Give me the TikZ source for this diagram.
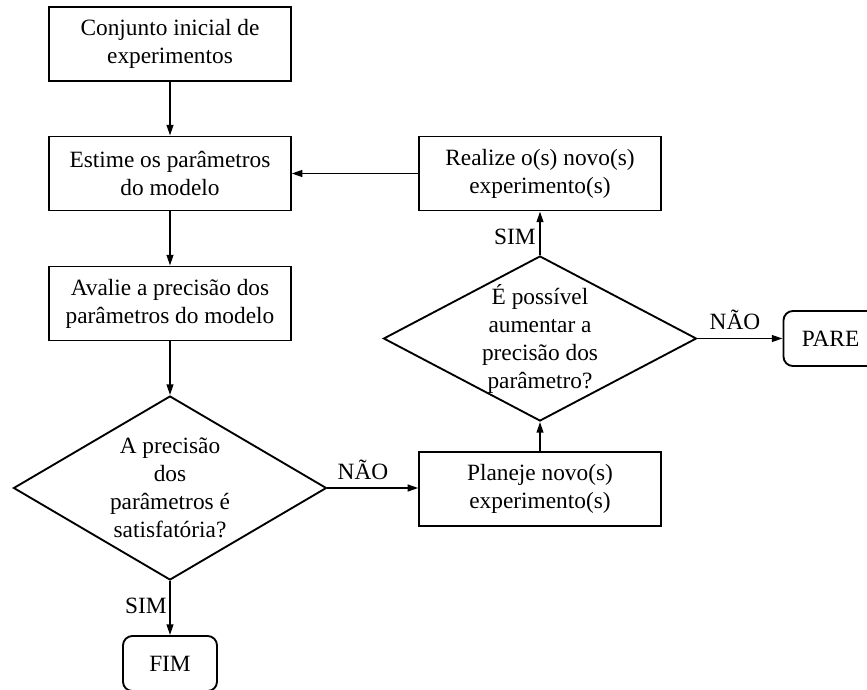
\documentclass[tikz,border=0pt]{standalone}
\usepackage{fontspec}
\setmainfont{Liberation Serif}
\usetikzlibrary{shapes.geometric,arrows.meta}
\begin{document}
\begin{tikzpicture}[x=0.75pt,y=-0.75pt,
  every node/.style={font=\fontsize{17.5}{21}\selectfont},
  procbox/.style={draw, line width=1.4pt, minimum width=181pt, minimum height=55.5pt, align=center, inner sep=0pt},
  decision/.style={draw, diamond, line width=1.4pt, inner sep=0pt, minimum width=234.75pt},
  dtext/.style={align=center, inner sep=0pt},
  terminal/.style={draw, line width=1.4pt, rounded corners=7pt, minimum width=70.5pt, minimum height=41.25pt, inner sep=0pt},
  lbl/.style={inner sep=0pt},
  arr/.style={draw, line width=1.4pt, -{Triangle[length=8pt,width=5pt]}}
]
\useasboundingbox (0,0) rectangle (867,689);
\clip (0,0) rectangle (867,689);
\fill[white] (0,0) rectangle (867,689);

\node[procbox] (b1) at (170,44) {Conjunto inicial de\\experimentos};
\node[procbox] (b2) at (170,173.5) {Estime os parâmetros\\do modelo};
\node[procbox] (b3) at (170,303.5) {Avalie a precisão dos\\parâmetros do modelo};
\node[decision, minimum height=138pt] (d1) at (170,488) {};
\node[dtext] (d1t) at (d1) {A precisão\\dos\\parâmetros é\\satisfatória?};
\node[terminal] (fim) at (170,663.5) {FIM};

\node[procbox] (real) at (540,173.5) {Realize o(s) novo(s)\\experimento(s)};
\node[decision, minimum height=123.75pt] (d2) at (540,338.5) {};
\node[dtext] (d2t) at (d2) {É possível\\aumentar a\\precisão dos\\parâmetro?};
\node[procbox] (plan) at (540,489) {Planeje novo(s)\\experimento(s)};
\node[terminal] (pare) at (830.5,338.5) {PARE};

\draw[arr] (b1.south) -- (b2.north);
\draw[arr] (b2.south) -- (b3.north);
\draw[arr] (b3.south) -- (d1.north);
\draw[arr] (d1.east) -- (d1.east -| plan.west);
\draw[arr] (d1.south) -- (fim.north);
\draw[arr] (plan.north) -- (d2.south);
\draw[arr] (d2.north) -- (real.south);
\draw[arr] (real.west) -- (b2.east);
\draw[arr] (d2.east) -- (pare.west);

\node[lbl] (l1) at (363,470) {NÃO};
\node[lbl, anchor=east] (l2) at (167,606) {SIM};
\node[lbl, anchor=east] (l3) at (536,237) {SIM};
\node[lbl] (l4) at (735,320) {NÃO};
\end{tikzpicture}
\end{document}
